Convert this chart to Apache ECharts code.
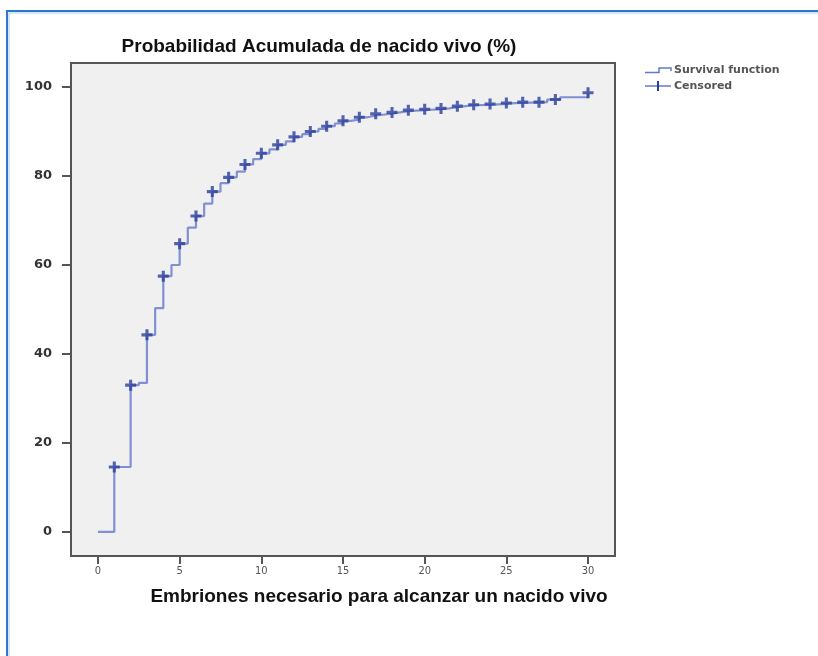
<!DOCTYPE html>
<html>
<head>
<meta charset="utf-8">
<title>Probabilidad Acumulada de nacido vivo</title>
<script src="https://cdn.jsdelivr.net/npm/echarts@6/dist/echarts.min.js"></script>
<style>
  html, body { margin: 0; padding: 0; background: #ffffff; }
  #chart { width: 818px; height: 656px; }
</style>
</head>
<body>
<div id="chart"></div>
<script>
// Kaplan-Meier style cumulative curve: time of each step and value after it (%)
const stepTimes = [0, 1, 2, 2.5, 3, 3.5, 4, 4.5, 5, 5.5, 6, 6.5, 7, 7.5, 8, 8.5, 9, 9.5, 10, 10.5,
  11, 11.5, 12, 12.5, 13, 13.5, 14, 14.5, 15, 15.5, 16, 16.5, 17, 18, 18.5, 19, 20, 21, 21.5,
  22, 22.5, 23, 24, 25, 25.5, 27.5, 28.3, 30];
const stepValues = [0, 14.6, 33.0, 33.5, 44.3, 50.3, 57.5, 60.0, 64.8, 68.4, 71.0, 73.8, 76.5, 78.4, 79.7, 81.0, 82.6, 83.8, 85.1, 86.0,
  87.0, 87.8, 88.8, 89.4, 90.0, 90.6, 91.2, 91.8, 92.4, 92.7, 93.2, 93.6, 94.0, 94.3, 94.6, 94.8, 95.0, 95.2, 95.5,
  95.7, 95.9, 96.0, 96.2, 96.4, 96.6, 97.2, 97.7, 98.7];

// Censored observations
const censoredTimes = [1, 2, 3, 4, 5, 6, 7, 8, 9, 10, 11, 12, 13, 14, 15, 16, 17, 18, 19, 20,
  21, 22, 23, 24, 25, 26, 27, 28, 30];
const censoredValues = [14.6, 33.0, 44.3, 57.5, 64.8, 71.0, 76.5, 79.7, 82.6, 85.1, 87.0, 88.8, 90.0, 91.2, 92.4, 93.2, 94.0, 94.3, 94.8, 95.0,
  95.2, 95.7, 96.0, 96.2, 96.4, 96.6, 96.6, 97.2, 98.7];

// Axis tick values
const xTicks = [0, 5, 10, 15, 20, 25, 30];
const yTicks = [0, 20, 40, 60, 80, 100];

const titleText = 'Probabilidad Acumulada de nacido vivo (%)';
const xAxisName = 'Embriones necesario para alcanzar un nacido vivo';
const legendNames = ['Survival function', 'Censored'];

const lineColor = '#6478cc';
const markColor = '#2c3f9c';
const plusPath = 'path://M3.6,0H6.4V3.6H10V6.4H6.4V10H3.6V6.4H0V3.6H3.6Z';

const chart = echarts.init(document.getElementById('chart'), null, { renderer: 'canvas' });

chart.setOption({
  animation: false,
  backgroundColor: '#ffffff',
  title: {
    text: titleText,
    left: 314,
    top: 32,
    textAlign: 'center',
    textStyle: {
      fontFamily: 'Liberation Sans, Arial, sans-serif',
      fontWeight: 'bold',
      fontSize: 19,
      color: '#111111'
    }
  },
  grid: {
    left: 71,
    top: 63,
    width: 544,
    height: 493,
    show: true,
    backgroundColor: '#f0f0f0',
    borderColor: '#555555',
    borderWidth: 2
  },
  xAxis: {
    type: 'value',
    min: -1.65,
    max: 31.65,
    name: xAxisName,
    nameLocation: 'middle',
    nameGap: 31,
    nameTextStyle: {
      fontFamily: 'Liberation Sans, Arial, sans-serif',
      fontWeight: 'bold',
      fontSize: 19,
      color: '#111111',
      padding: [0, 0, 0, 72]
    },
    splitLine: { show: false },
    axisLine: { show: false, onZero: false },
    axisTick: {
      show: true,
      inside: false,
      length: 8,
      customValues: xTicks,
      lineStyle: { color: '#555555', width: 2 }
    },
    axisLabel: {
      customValues: xTicks,
      margin: 10,
      fontFamily: "'DejaVu Sans Condensed', 'Liberation Sans Narrow', sans-serif",
      fontSize: 11,
      color: '#555555'
    }
  },
  yAxis: {
    type: 'value',
    min: -5.4,
    max: 105.4,
    splitLine: { show: false },
    axisLine: { show: false, onZero: false },
    axisTick: {
      show: true,
      inside: false,
      length: 9,
      customValues: yTicks,
      lineStyle: { color: '#555555', width: 2 }
    },
    axisLabel: {
      customValues: yTicks,
      margin: 19,
      fontFamily: 'DejaVu Sans, sans-serif',
      fontWeight: 'bold',
      fontSize: 13,
      color: '#333333'
    }
  },
  series: [
    {
      name: legendNames[0],
      type: 'line',
      step: 'end',
      showSymbol: false,
      symbol: 'none',
      data: stepTimes.map((t, i) => [t, stepValues[i]]),
      lineStyle: { color: lineColor, width: 2.2, opacity: 0.8 },
      z: 2
    },
    {
      name: legendNames[1],
      type: 'scatter',
      symbol: plusPath,
      symbolSize: 11,
      data: censoredTimes.map((t, i) => [t, censoredValues[i]]),
      itemStyle: { color: markColor },
      z: 3
    }
  ],
  graphic: [
    // outer frame of the figure
    {
      type: 'polyline',
      shape: { points: [[7, 660], [7, 11], [820, 11]] },
      style: { stroke: '#2b78c9', lineWidth: 2, fill: null }
    },
    {
      type: 'polyline',
      shape: { points: [[9, 660], [9, 13], [820, 13]] },
      style: { stroke: '#a9cdf0', lineWidth: 1, fill: null }
    },
    // legend: step symbol
    {
      type: 'polyline',
      shape: { points: [[645, 72.5], [659, 72.5], [659, 68], [671, 68], [671, 71]] },
      style: { stroke: lineColor, lineWidth: 1.5, fill: null }
    },
    {
      type: 'text',
      style: {
        x: 674, y: 70, text: legendNames[0],
        font: 'bold 11px "DejaVu Sans", sans-serif',
        fill: '#555555', textVerticalAlign: 'middle'
      }
    },
    // legend: censored symbol
    {
      type: 'line',
      shape: { x1: 645, y1: 86, x2: 671, y2: 86 },
      style: { stroke: lineColor, lineWidth: 1.5 }
    },
    {
      type: 'line',
      shape: { x1: 658, y1: 81, x2: 658, y2: 91 },
      style: { stroke: markColor, lineWidth: 2 }
    },
    {
      type: 'text',
      style: {
        x: 674, y: 86, text: legendNames[1],
        font: 'bold 11px "DejaVu Sans", sans-serif',
        fill: '#555555', textVerticalAlign: 'middle'
      }
    }
  ]
});
</script>
</body>
</html>
